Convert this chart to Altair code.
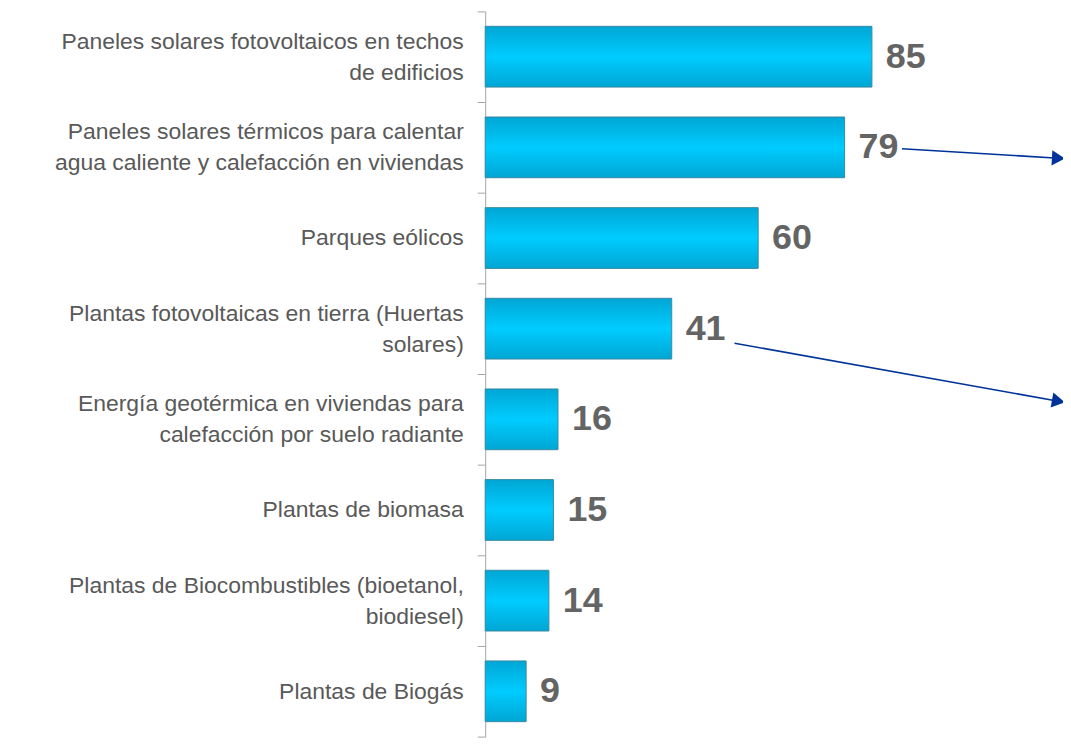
import altair as alt
import pandas as pd

categories = [
    "Paneles solares fotovoltaicos en techos|de edificios",
    "Paneles solares térmicos para calentar|agua caliente y calefacción en viviendas",
    "Parques eólicos",
    "Plantas fotovoltaicas en tierra (Huertas|solares)",
    "Energía geotérmica en viviendas para|calefacción por suelo radiante",
    "Plantas de biomasa",
    "Plantas de Biocombustibles (bioetanol,|biodiesel)",
    "Plantas de Biogás",
]
values = [85, 79, 60, 41, 16, 15, 14, 9]

# annotation arrows (data units: x = value axis, y = band index from top)
arrow_x0 = [91.6, 54.8]
arrow_x1 = [126.0, 126.0]
arrow_y0 = [1.515, 3.66]
arrow_y1 = [1.62, 4.30]
arrow_angle = [3.5, 10.4]

df = pd.DataFrame({"cat": categories, "val": values})
arrows = pd.DataFrame({"x0": arrow_x0, "x1": arrow_x1, "y0": arrow_y0,
                       "y1": arrow_y1, "ang": arrow_angle})

xscale = alt.Scale(domain=[0, 127], nice=False, zero=True)
yband = alt.Y("cat:N", sort=categories,
              scale=alt.Scale(paddingInner=0, paddingOuter=0),
              axis=alt.Axis(title=None, labelExpr="split(datum.label, '|')",
                            labelFont="Liberation Sans", labelFontSize=23,
                            labelColor="#595959", labelLineHeight=31,
                            labelLimit=800, labelPadding=14,
                            labelOffset={"condition": {
                                "test": "isString(datum.value) && indexof(datum.value, '|') >= 0",
                                "value": -15.5}, "value": 0},
                            tickBand="extent", tickSize=8,
                            tickColor="#a6a6a6", domainColor="#a6a6a6",
                            grid=False))

grad = alt.Gradient(gradient="linear", x1=0, x2=0, y1=0, y2=1,
                    stops=[alt.GradientStop(color="#00a6d4", offset=0),
                           alt.GradientStop(color="#00ccff", offset=0.5),
                           alt.GradientStop(color="#00a6d4", offset=1)])

bars = alt.Chart(df).mark_bar(color=grad, stroke="#3a8aa3", strokeWidth=1,
                              height={"band": 0.67}).encode(
    x=alt.X("val:Q", scale=xscale, axis=None),
    y=yband,
)

labels = alt.Chart(df).mark_text(align="left", baseline="middle", dx=14,
                                 font="Liberation Sans", fontSize=36,
                                 fontWeight="bold", color="#646464").encode(
    x=alt.X("val:Q", scale=xscale, axis=None),
    y=yband,
    text="val:Q",
)

yq = alt.Scale(domain=[0, 8], reverse=True, nice=False, zero=False)
arrow_lines = alt.Chart(arrows).mark_rule(color="#003399", strokeWidth=1.6).encode(
    x=alt.X("x0:Q", scale=xscale, axis=None),
    x2="x1:Q",
    y=alt.Y("y0:Q", scale=yq, axis=None),
    y2="y1:Q",
)
arrow_heads = alt.Chart(arrows).mark_point(shape="triangle-right", filled=True,
                                          color="#003399", size=230, opacity=1).encode(
    x=alt.X("x1:Q", scale=xscale, axis=None),
    y=alt.Y("y1:Q", scale=yq, axis=None),
    angle=alt.Angle("ang:Q", scale=None),
)

main = alt.layer(bars, labels)
ann = alt.layer(arrow_lines, arrow_heads)

chart = alt.layer(main, ann).resolve_scale(y="independent").properties(
    width=580, height=728,
    autosize=alt.AutoSizeParams(type="none"),
    padding={"left": 479, "top": 2, "right": 0, "bottom": 0},
).configure_view(stroke=None)

chart.save("out.html", embed_options={"renderer": "svg", "actions": False})
